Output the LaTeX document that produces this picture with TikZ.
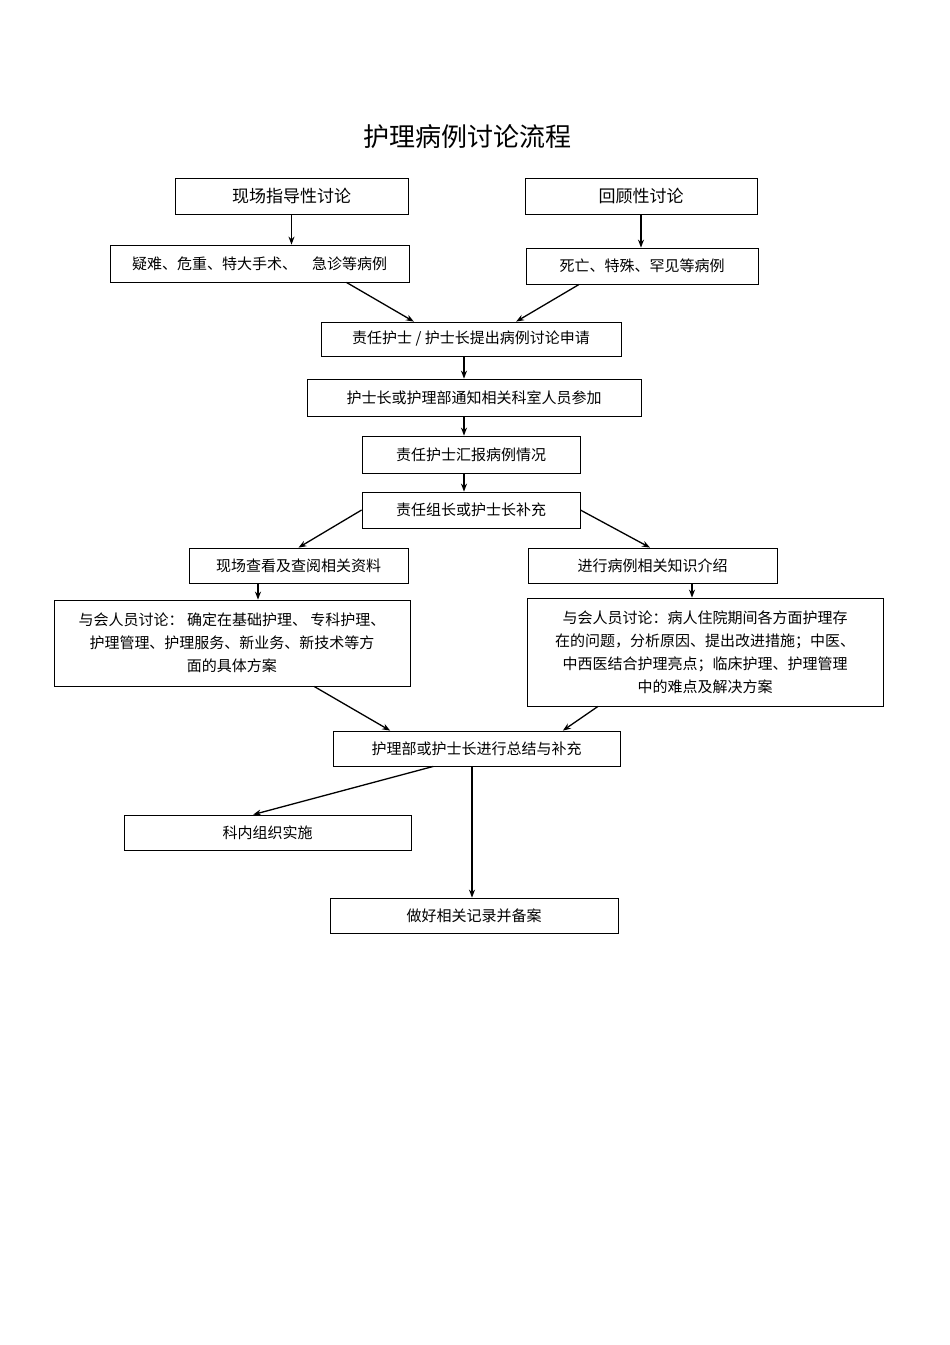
\documentclass[tikz,border=0pt]{standalone}
\usepackage{fontspec}
\setmainfont{Noto Sans CJK SC}
\usetikzlibrary{arrows.meta,calc}
\begin{document}
\begin{tikzpicture}[x=1pt,y=-1pt,
 bx/.style={draw,line width=0.8pt,inner sep=0pt,font=\fontsize{15}{23}\selectfont},
 ar/.style={-{Stealth[length=8pt,width=6pt]},line width=1.3pt}]
\useasboundingbox (0,0) rectangle (950,1345);
\newcommand\bx[6]{\node[bx,minimum width=#4-#2,minimum height=#5-#3,align=center] (#1) at ({(#2+#4)/2},{(#3+#5)/2}) {#6};}
\node[font=\fontsize{26}{30}\selectfont] (t) at (467,137) {护理病例讨论流程};
\bx{b1}{175}{178}{408}{214}{\fontsize{17}{20}\selectfont 现场指导性讨论}
\bx{b2}{525}{178}{757}{214}{\fontsize{17}{20}\selectfont 回顾性讨论}
\bx{b3}{110}{245}{409}{282}{疑难、危重、特大手术、\quad 急诊等病例}
\bx{b4}{526}{248}{758}{284}{死亡、特殊、罕见等病例}
\bx{b5}{321}{322}{621}{356}{责任护士 / 护士长提出病例讨论申请}
\bx{b6}{307}{379}{641}{416}{护士长或护理部通知相关科室人员参加}
\bx{b7}{362}{436}{580}{473}{责任护士汇报病例情况}
\bx{b8}{362}{492}{580}{528}{责任组长或护士长补充}
\bx{b9}{189}{548}{408}{583}{现场查看及查阅相关资料}
\bx{b10}{528}{548}{777}{583}{进行病例相关知识介绍}
\bx{b11}{54}{600}{410}{686}{与会人员讨论：\ 确定在基础护理、 专科护理、\\护理管理、护理服务、新业务、新技术等方\\面的具体方案}
\bx{b12}{527}{598}{883}{706}{与会人员讨论：病人住院期间各方面护理存\\在的问题，分析原因、提出改进措施；中医、\\中西医结合护理亮点；临床护理、护理管理\\中的难点及解决方案}
\bx{b13}{333}{731}{620}{766}{护理部或护士长进行总结与补充}
\bx{b14}{124}{815}{411}{850}{科内组织实施}
\bx{b15}{330}{898}{618}{933}{做好相关记录并备案}
\draw[ar] (b1.south) -- (b3.north -| b1.south);
\draw[ar] (b2.south) -- (b4.north -| b2.south);
\draw[ar] ($(b3.south west)!0.79!(b3.south east)$) -- ($(b5.north west)!0.31!(b5.north east)$);
\draw[ar] ($(b4.south west)!0.23!(b4.south east)$) -- ($(b5.north west)!0.65!(b5.north east)$);
\draw[ar] (b5.south -| 464,0) -- (b6.north -| 464,0);
\draw[ar] (b6.south -| 464,0) -- (b7.north -| 464,0);
\draw[ar] (b7.south -| 464,0) -- (b8.north -| 464,0);
\draw[ar] (b8.west) -- ($(b9.north west)!0.5!(b9.north east)$);
\draw[ar] (b8.east) -- ($(b10.north west)!0.49!(b10.north east)$);
\draw[ar] (b9.south -| 258,0) -- (b11.north -| 258,0);
\draw[ar] (b10.south -| 692,0) -- (b12.north -| 692,0);
\draw[ar] ($(b11.south west)!0.73!(b11.south east)$) -- ($(b13.north west)!0.2!(b13.north east)$);
\draw[ar] ($(b12.south west)!0.2!(b12.south east)$) -- ($(b13.north west)!0.8!(b13.north east)$);
\draw[ar] ($(b13.south west)!0.35!(b13.south east)$) -- ($(b14.north west)!0.45!(b14.north east)$);
\draw[ar] (b13.south -| 472,0) -- (b15.north -| 472,0);
\end{tikzpicture}
\end{document}
